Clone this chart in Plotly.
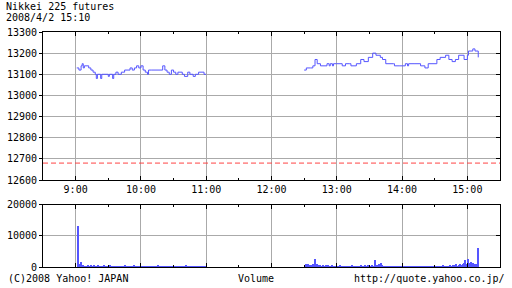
import pandas as pd
import plotly.graph_objects as go

DAY = "2008-04-02 "

# Price (step changes), morning session
am_times = ["09:01","09:03","09:05","09:06","09:07","09:08","09:12","09:14","09:16","09:18","09:19","09:20",
            "09:23","09:24","09:30","09:31","09:34","09:35","09:37","09:39","09:42","09:45","09:50","09:52",
            "09:54","09:56","09:58","10:00","10:02","10:04","10:06","10:07","10:10","10:20","10:22","10:24",
            "10:26","10:28","10:30","10:32","10:34","10:38","10:40","10:43","10:45","10:48","10:50","10:53",
            "10:58","11:00"]
am_prices = [13130,13120,13140,13150,13130,13140,13130,13120,13110,13100,13080,13100,
             13080,13100,13090,13100,13080,13100,13110,13100,13110,13120,13130,13120,
             13130,13140,13130,13140,13120,13110,13100,13120,13120,13140,13120,13110,
             13100,13120,13110,13100,13110,13100,13090,13110,13100,13090,13100,13110,
             13100,13100]

# Price (step changes), afternoon session
pm_times = ["12:30","12:32","12:36","12:38","12:40","12:42","12:45","12:51","12:53","12:54","12:56","12:57",
            "13:00","13:05","13:08","13:12","13:13","13:18","13:22","13:25","13:29","13:33","13:36","13:40",
            "13:42","13:45","13:52","13:53","13:58","14:03","14:05","14:06","14:11","14:17","14:21","14:24",
            "14:32","14:35","14:40","14:43","14:46","14:49","14:52","14:57","15:00","15:01","15:05","15:07",
            "15:10"]
pm_prices = [13120,13130,13130,13140,13170,13150,13140,13150,13140,13150,13140,13150,
             13150,13140,13150,13150,13140,13150,13170,13160,13180,13200,13190,13180,
             13170,13150,13150,13140,13140,13150,13140,13150,13150,13140,13130,13150,
             13170,13180,13190,13170,13160,13170,13190,13170,13190,13210,13220,13210,
             13180]

prev_close = 12680

# Volume per minute
vol_am_start = "09:02"
vol_am = [13300, 600, 1200, 1900, 500, 700, 400, 600, 500, 700, 600, 400, 700, 500, 600, 800, 400, 600,
          500, 700, 400, 500, 600, 300, 700, 500, 400, 600, 300, 500, 900, 400, 300, 500, 600, 200,
          400, 500, 300, 600, 400, 300, 500, 700, 200, 400, 300, 500, 400, 600, 300, 500, 700, 400,
          300, 200, 500, 400, 300, 600, 200, 300, 400, 200, 500, 300, 400, 200, 300, 600, 400, 500,
          300, 400, 700, 300, 500, 600, 300, 400, 200, 500, 300, 400, 600, 300, 200, 400, 300, 500,
          400, 300, 600, 400, 500, 300, 400, 500, 600, 900, 400, 300, 500, 400, 300, 200, 400, 500,
          300, 400, 600, 300, 200, 600, 300, 400, 500, 200, 300]
vol_pm_start = "12:31"
vol_pm = [900, 1200, 800, 1100, 700, 900, 500, 1000, 600, 2600,
          800, 1100, 600, 700, 900, 500, 800, 400, 600, 700,
          500, 800, 300, 600, 400, 700, 300, 500, 600, 400,
          300, 500, 900, 400, 300, 600, 200, 400, 500, 300,
          600, 400, 300, 700, 500, 300, 400, 600, 300, 500,
          400, 700, 500, 300, 600, 800, 400, 500, 900, 600,
          500, 700, 400, 600, 2300, 500, 800, 400, 1000, 600,
          1500, 700, 500, 400, 600, 300, 500, 400, 600, 300,
          500, 300, 400, 600, 200, 400, 300, 500, 400, 300,
          400, 200, 300, 500, 300, 200, 400, 300, 500, 200,
          300, 400, 200, 300, 500, 300, 200, 400, 300, 200,
          400, 300, 500, 200, 300, 400, 600, 300, 400, 300,
          500, 400, 300, 600, 400, 500, 300, 700, 400, 500,
          600, 400, 500, 800, 600, 400, 900, 500, 700, 1000,
          600, 800, 1200, 700, 900, 1100, 1400, 2300, 800, 1200,
          2600, 1300, 1800, 900, 1500, 1100, 800, 1200, 700, 6200]

hour_vals = ["09:00","10:00","11:00","12:00","13:00","14:00","15:00"]
hour_text = ["9:00","10:00","11:00","12:00","13:00","14:00","15:00"]
price_ticks = [12600,12700,12800,12900,13000,13100,13200,13300]
price_text = ["12600","12700","12800","12900","13000","13100","13200","13300"]
vol_ticks = [0,10000,20000]
vol_text = ["0","10000","20000"]

BLUE = "#5555ff"
GRID = "#aaaaaa"
FONT = "DejaVu Sans Mono"

W, H = 512, 288
L, R, T, B = 43, 12, 32, 21
plot_w = W - L - R
plot_h = H - T - B
def py(pix):  # pixel y (from top) -> paper coordinate
    return (H - B - pix) / plot_h
def px(pix):  # pixel x (from left) -> paper coordinate
    return (pix - L) / plot_w

fig = go.Figure()
fig.add_trace(go.Scatter(x=[DAY + t for t in am_times], y=am_prices, mode="lines",
                         line=dict(color=BLUE, width=1, shape="hv"), xaxis="x", yaxis="y"))
fig.add_trace(go.Scatter(x=[DAY + t for t in pm_times], y=pm_prices, mode="lines",
                         line=dict(color=BLUE, width=1, shape="hv"), xaxis="x", yaxis="y"))
am_idx = pd.date_range(DAY + vol_am_start, periods=len(vol_am), freq="min")
pm_idx = pd.date_range(DAY + vol_pm_start, periods=len(vol_pm), freq="min")
fig.add_trace(go.Bar(x=list(am_idx) + list(pm_idx), y=vol_am + vol_pm,
                     marker=dict(color=BLUE, line=dict(width=0)), xaxis="x2", yaxis="y2"))

fig.add_shape(type="line", xref="paper", yref="y", x0=0, x1=1, y0=prev_close, y1=prev_close,
              line=dict(color="#ff4444", width=1, dash="5px,3px"))

xr = [DAY + "08:30", DAY + "15:30"]
xcommon = dict(type="date", range=xr, tickvals=[DAY + v for v in hour_vals], ticktext=hour_text,
               showgrid=True, gridcolor=GRID, gridwidth=1, showline=True, linecolor="black",
               linewidth=1, mirror="ticks", ticks="inside", ticklen=4, tickcolor="black",
               minor=dict(dtick=1800000, ticks="inside", ticklen=2, tickcolor="black", showgrid=False),
               zeroline=False, fixedrange=True, automargin=False)
ycommon = dict(showgrid=True, gridcolor=GRID, gridwidth=1, showline=True, linecolor="black",
               linewidth=1, mirror=True, ticks="outside", ticklen=3, tickcolor="black",
               zeroline=False, fixedrange=True, automargin=False)

p_dom = [py(180), 1.0]
v_dom = [0.0, py(204.5)]

fig.update_layout(
    width=W, height=H, margin=dict(l=L, r=R, t=T, b=B, autoexpand=False), showlegend=False,
    paper_bgcolor="white", plot_bgcolor="white", bargap=0,
    font=dict(family=FONT, size=10, color="black"),
    xaxis=dict(**xcommon, anchor="y", domain=[0, 1]),
    xaxis2=dict(**xcommon, anchor="y2", domain=[0, 1], matches="x", showticklabels=False),
    yaxis=dict(**ycommon, domain=p_dom, range=[12600, 13300], tickvals=price_ticks, ticktext=price_text),
    yaxis2=dict(**ycommon, domain=v_dom, range=[0, 20000], tickvals=vol_ticks, ticktext=vol_text),
    yaxis3=dict(overlaying="y", side="right", range=[12600, 13300], tickvals=price_ticks,
                showticklabels=False, ticks="inside", ticklen=4, tickcolor="black",
                showgrid=False, zeroline=False, showline=False, anchor="x", fixedrange=True),
    yaxis4=dict(overlaying="y2", side="right", range=[0, 20000], tickvals=vol_ticks,
                showticklabels=False, ticks="inside", ticklen=4, tickcolor="black",
                showgrid=False, zeroline=False, showline=False, anchor="x2", fixedrange=True),
)
fig.add_trace(go.Scatter(x=[None], y=[None], xaxis="x", yaxis="y3", showlegend=False, hoverinfo="skip"))
fig.add_trace(go.Scatter(x=[None], y=[None], xaxis="x2", yaxis="y4", showlegend=False, hoverinfo="skip"))

fig.add_annotation(text="Nikkei 225 futures", xref="paper", yref="paper", x=px(4),
                   y=py(7), xanchor="left", yanchor="middle", showarrow=False)
fig.add_annotation(text="2008/4/2 15:10", xref="paper", yref="paper", x=px(4),
                   y=py(17), xanchor="left", yanchor="middle", showarrow=False)
fig.add_annotation(text="(C)2008 Yahoo! JAPAN", xref="paper", yref="paper",
                   x=px(6), y=py(278), xanchor="left", yanchor="middle", showarrow=False)
fig.add_annotation(text="Volume", xref="paper", yref="paper", x=px(256), y=py(278),
                   xanchor="center", yanchor="middle", showarrow=False)
fig.add_annotation(text="http://quote.yahoo.co.jp/", xref="paper", yref="paper",
                   x=px(507), y=py(278), xanchor="right", yanchor="middle", showarrow=False)

fig.write_html("out.html")
